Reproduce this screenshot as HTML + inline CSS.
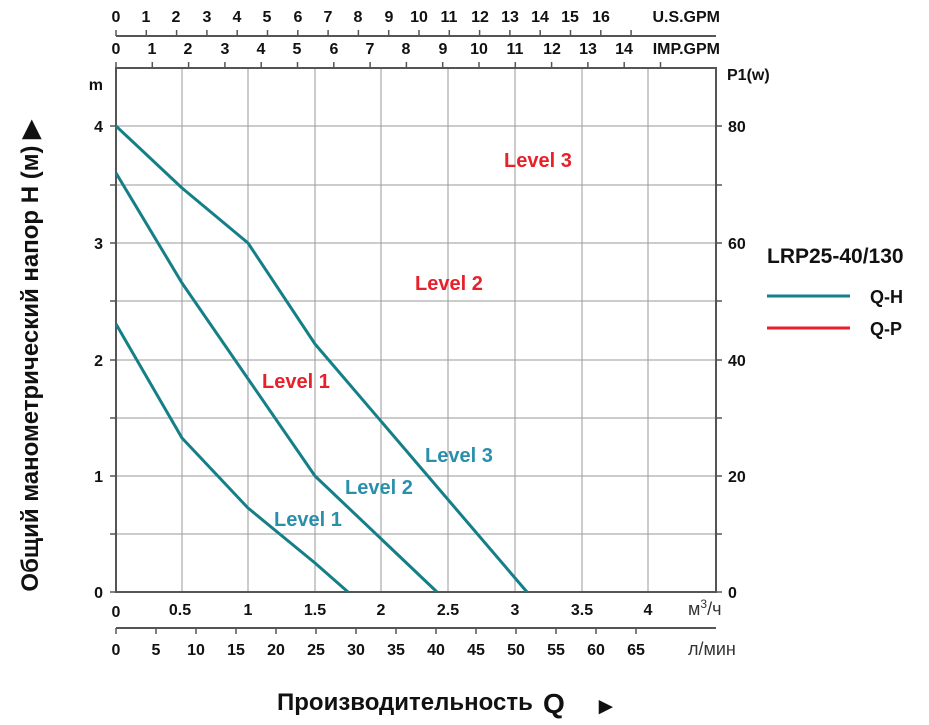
<!DOCTYPE html>
<html><head><meta charset="utf-8"><style>
html,body{margin:0;padding:0;background:#fff;}
svg{display:block;font-family:"Liberation Sans",Arial,sans-serif;font-weight:bold;}
</style></head><body>
<svg width="929" height="725" viewBox="0 0 929 725" xmlns="http://www.w3.org/2000/svg">
<g stroke="#9a9a9a" stroke-width="1">
<line x1="182" y1="68" x2="182" y2="592"/><line x1="248" y1="68" x2="248" y2="592"/>
<line x1="315" y1="68" x2="315" y2="592"/><line x1="381" y1="68" x2="381" y2="592"/>
<line x1="448" y1="68" x2="448" y2="592"/><line x1="515" y1="68" x2="515" y2="592"/>
<line x1="582" y1="68" x2="582" y2="592"/><line x1="648" y1="68" x2="648" y2="592"/>
<line x1="116" y1="534" x2="716" y2="534"/><line x1="116" y1="476" x2="716" y2="476"/>
<line x1="116" y1="418" x2="716" y2="418"/><line x1="116" y1="360" x2="716" y2="360"/>
<line x1="116" y1="301" x2="716" y2="301"/><line x1="116" y1="243" x2="716" y2="243"/>
<line x1="116" y1="185" x2="716" y2="185"/><line x1="116" y1="126" x2="716" y2="126"/>
</g>
<g stroke="#555" stroke-width="2" fill="none">
<rect x="116" y="68" width="600" height="524"/>
<line x1="116" y1="36" x2="716" y2="36"/>
<line x1="116" y1="628" x2="716" y2="628"/>
</g>
<g stroke="#555" stroke-width="1.5">
<line x1="110" y1="592" x2="116" y2="592"/><line x1="110" y1="534" x2="116" y2="534"/><line x1="110" y1="476" x2="116" y2="476"/><line x1="110" y1="418" x2="116" y2="418"/><line x1="110" y1="360" x2="116" y2="360"/><line x1="110" y1="301" x2="116" y2="301"/><line x1="110" y1="243" x2="116" y2="243"/><line x1="110" y1="185" x2="116" y2="185"/><line x1="110" y1="126" x2="116" y2="126"/>
<line x1="716" y1="592" x2="722" y2="592"/><line x1="716" y1="534" x2="722" y2="534"/><line x1="716" y1="476" x2="722" y2="476"/><line x1="716" y1="418" x2="722" y2="418"/><line x1="716" y1="360" x2="722" y2="360"/><line x1="716" y1="301" x2="722" y2="301"/><line x1="716" y1="243" x2="722" y2="243"/><line x1="716" y1="185" x2="722" y2="185"/><line x1="716" y1="126" x2="722" y2="126"/>
<line x1="116.0" y1="30" x2="116.0" y2="36"/><line x1="146.3" y1="30" x2="146.3" y2="36"/><line x1="176.6" y1="30" x2="176.6" y2="36"/><line x1="206.9" y1="30" x2="206.9" y2="36"/><line x1="237.2" y1="30" x2="237.2" y2="36"/><line x1="267.5" y1="30" x2="267.5" y2="36"/><line x1="297.8" y1="30" x2="297.8" y2="36"/><line x1="328.1" y1="30" x2="328.1" y2="36"/><line x1="358.4" y1="30" x2="358.4" y2="36"/><line x1="388.7" y1="30" x2="388.7" y2="36"/><line x1="419.0" y1="30" x2="419.0" y2="36"/><line x1="449.3" y1="30" x2="449.3" y2="36"/><line x1="479.6" y1="30" x2="479.6" y2="36"/><line x1="509.9" y1="30" x2="509.9" y2="36"/><line x1="540.2" y1="30" x2="540.2" y2="36"/><line x1="570.5" y1="30" x2="570.5" y2="36"/><line x1="600.8" y1="30" x2="600.8" y2="36"/><line x1="631.1" y1="30" x2="631.1" y2="36"/>
<line x1="116.0" y1="62" x2="116.0" y2="68"/><line x1="152.3" y1="62" x2="152.3" y2="68"/><line x1="188.6" y1="62" x2="188.6" y2="68"/><line x1="224.9" y1="62" x2="224.9" y2="68"/><line x1="261.2" y1="62" x2="261.2" y2="68"/><line x1="297.5" y1="62" x2="297.5" y2="68"/><line x1="333.8" y1="62" x2="333.8" y2="68"/><line x1="370.1" y1="62" x2="370.1" y2="68"/><line x1="406.4" y1="62" x2="406.4" y2="68"/><line x1="442.7" y1="62" x2="442.7" y2="68"/><line x1="479.0" y1="62" x2="479.0" y2="68"/><line x1="515.3" y1="62" x2="515.3" y2="68"/><line x1="551.6" y1="62" x2="551.6" y2="68"/><line x1="587.9" y1="62" x2="587.9" y2="68"/><line x1="624.2" y1="62" x2="624.2" y2="68"/><line x1="660.5" y1="62" x2="660.5" y2="68"/>
<line x1="116" y1="628" x2="116" y2="634"/><line x1="156" y1="628" x2="156" y2="634"/><line x1="196" y1="628" x2="196" y2="634"/><line x1="236" y1="628" x2="236" y2="634"/><line x1="276" y1="628" x2="276" y2="634"/><line x1="316" y1="628" x2="316" y2="634"/><line x1="356" y1="628" x2="356" y2="634"/><line x1="396" y1="628" x2="396" y2="634"/><line x1="436" y1="628" x2="436" y2="634"/><line x1="476" y1="628" x2="476" y2="634"/><line x1="516" y1="628" x2="516" y2="634"/><line x1="556" y1="628" x2="556" y2="634"/><line x1="596" y1="628" x2="596" y2="634"/><line x1="636" y1="628" x2="636" y2="634"/>
</g>
<g stroke="#157f88" stroke-width="3" fill="none" stroke-linejoin="round">
<polyline points="116,324 182,438 248,508 315,563 348,592"/>
<polyline points="116,173 182,283 315,476 437,592"/>
<polyline points="116,126 182,188 248,243 315,344 527,592"/>
</g>
<g font-size="16" fill="#111" text-anchor="middle">
<text x="116" y="22">0</text><text x="146" y="22">1</text><text x="176" y="22">2</text><text x="207" y="22">3</text><text x="237" y="22">4</text><text x="267" y="22">5</text><text x="298" y="22">6</text><text x="328" y="22">7</text><text x="358" y="22">8</text><text x="389" y="22">9</text><text x="419" y="22">10</text><text x="449" y="22">11</text><text x="480" y="22">12</text><text x="510" y="22">13</text><text x="540" y="22">14</text><text x="570" y="22">15</text><text x="601" y="22">16</text>
<text x="116" y="54">0</text><text x="152" y="54">1</text><text x="188" y="54">2</text><text x="225" y="54">3</text><text x="261" y="54">4</text><text x="297" y="54">5</text><text x="334" y="54">6</text><text x="370" y="54">7</text><text x="406" y="54">8</text><text x="443" y="54">9</text><text x="479" y="54">10</text><text x="515" y="54">11</text><text x="552" y="54">12</text><text x="588" y="54">13</text><text x="624" y="54">14</text>
</g>
<g font-size="16" fill="#111" text-anchor="end">
<text x="720" y="22">U.S.GPM</text><text x="720" y="54">IMP.GPM</text>
<text x="103" y="90">m</text>
<text x="103" y="132">4</text><text x="103" y="249">3</text><text x="103" y="366">2</text><text x="103" y="482">1</text><text x="103" y="598">0</text>
</g>
<g font-size="16" fill="#111" text-anchor="start">
<text x="728" y="132">80</text><text x="728" y="249">60</text><text x="728" y="366">40</text><text x="728" y="482">20</text><text x="728" y="598">0</text>
<text x="727" y="80">P1(w)</text>
</g>
<g font-size="16" fill="#111" text-anchor="middle">
<text x="116" y="617">0</text><text x="180" y="615">0.5</text><text x="248" y="615">1</text><text x="315" y="615">1.5</text><text x="381" y="615">2</text><text x="448" y="615">2.5</text><text x="515" y="615">3</text><text x="582" y="615">3.5</text><text x="648" y="615">4</text>
<text x="116" y="655">0</text><text x="156" y="655">5</text><text x="196" y="655">10</text><text x="236" y="655">15</text><text x="276" y="655">20</text><text x="316" y="655">25</text><text x="356" y="655">30</text><text x="396" y="655">35</text><text x="436" y="655">40</text><text x="476" y="655">45</text><text x="516" y="655">50</text><text x="556" y="655">55</text><text x="596" y="655">60</text><text x="636" y="655">65</text>
</g>
<g font-size="18" fill="#333" font-weight="normal" text-anchor="start">
<text x="688" y="615">м<tspan font-size="12" dy="-7">3</tspan><tspan dy="7">/ч</tspan></text>
<text x="688" y="655">л/мин</text>
</g>
<g font-size="20" fill="#e8202a">
<text x="504" y="167">Level 3</text><text x="415" y="290">Level 2</text><text x="262" y="388">Level 1</text>
</g>
<g font-size="20" fill="#2a8fac">
<text x="425" y="462">Level 3</text><text x="345" y="494">Level 2</text><text x="274" y="526">Level 1</text>
</g>
<text x="767" y="263" font-size="21" fill="#111">LRP25-40/130</text>
<line x1="767" y1="296" x2="850" y2="296" stroke="#157f88" stroke-width="3"/>
<text x="870" y="303" font-size="18" fill="#111">Q-H</text>
<line x1="767" y1="328" x2="850" y2="328" stroke="#e8202a" stroke-width="3"/>
<text x="870" y="335" font-size="18" fill="#111">Q-P</text>
<text transform="translate(38,356) rotate(-90)" text-anchor="middle" font-size="24" fill="#111">Общий манометрический напор H (м) ▶</text>
<text x="277" y="710" font-size="24" fill="#111">Производительность</text>
<text x="543" y="713" font-size="28" fill="#111">Q</text>
<text x="594" y="714" font-size="24" fill="#111">►</text>
</svg>
</body></html>
